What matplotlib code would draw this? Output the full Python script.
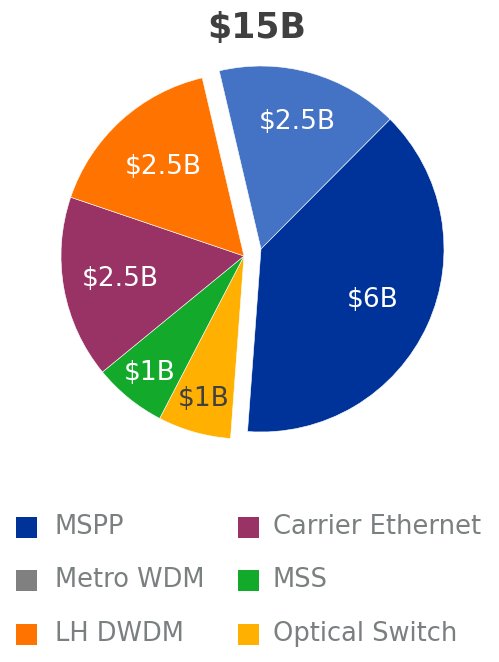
import numpy as np
import matplotlib
matplotlib.use('Agg')
import matplotlib.pyplot as plt
from matplotlib.patches import Rectangle

# slices, clockwise from the top
segments = ['Metro WDM', 'MSPP', 'Optical Switch', 'MSS', 'Carrier Ethernet', 'LH DWDM']
values = [2.5, 6, 1, 1, 2.5, 2.5]
labels = ['$2.5B', '$6B', '$1B', '$1B', '$2.5B', '$2.5B']
slice_colors = ['#4472c4', '#003399', '#ffb000', '#13aa2c', '#993366', '#ff7300']
label_colors = ['white', 'white', '#404040', 'white', 'white', 'white']
group = [1, 1, -1, -1, -1, -1]          # which half is pulled apart
label_r = [0.72, 0.67, 0.81, 0.82, 0.69, 0.66]
title = '$15B'

legend_names = ['MSPP', 'Carrier Ethernet', 'Metro WDM', 'MSS', 'LH DWDM', 'Optical Switch']
legend_colors = ['#003399', '#993366', '#808080', '#13aa2c', '#ff7300', '#ffb000']

W, H = 499, 662
fig = plt.figure(figsize=(W / 100, H / 100), dpi=100)
ax = fig.add_axes([0, 0, 1, 1])
ax.set_xlim(0, W)
ax.set_ylim(0, H)
ax.set_aspect('equal')
ax.axis('off')

cx, cy, R = 252.5, H - 252.5, 183
off = np.array([8.5, 3.5])

wedges, _ = ax.pie(values, colors=slice_colors, startangle=103.2, counterclock=False,
                   center=(cx, cy), radius=R, frame=True,
                   wedgeprops=dict(edgecolor='white', linewidth=0.4))
ax.set_xlim(0, W)
ax.set_ylim(0, H)
ax.axis('off')

for w, g, lab, lc, lr in zip(wedges, group, labels, label_colors, label_r):
    c = np.array([cx, cy]) + g * off
    w.set_center(tuple(c))
    mid = np.deg2rad((w.theta1 + w.theta2) / 2)
    ax.text(c[0] + lr * R * np.cos(mid), c[1] + lr * R * np.sin(mid), lab,
            color=lc, fontsize=19, ha='center', va='center', family='DejaVu Sans')

ax.text(257, H - 28, title, fontsize=25, fontweight='bold', color='#404040',
        ha='center', va='center')

# legend, two columns
col_x = [16, 238]
text_x = [55, 273]
row_y = [527, 580, 634]
for i, (name, col) in enumerate(zip(legend_names, legend_colors)):
    r, k = divmod(i, 2)
    yc = H - row_y[r]
    ax.add_patch(Rectangle((col_x[k], yc - 10.5), 21, 21, color=col, lw=0))
    ax.text(text_x[k], yc, name, fontsize=18.5, color='#7a7f80', ha='left', va='center')

fig.savefig('out.png', dpi=100)
